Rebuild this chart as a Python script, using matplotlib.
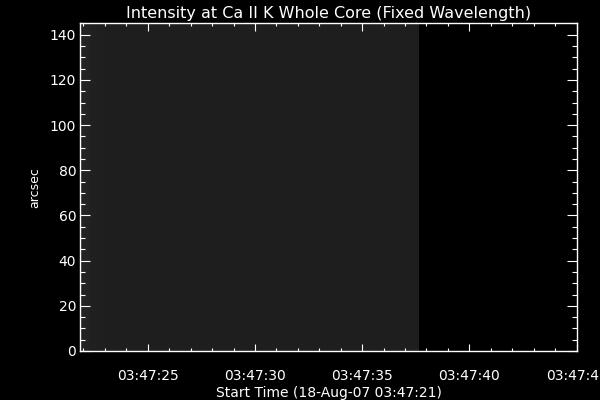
import numpy as np
from matplotlib import pyplot as plt
from matplotlib.ticker import MultipleLocator, FuncFormatter

# start of observation 03:47:21, x values are seconds after that
start_sec = 21
x_range = [0.86, 24.0]
img_span = [0.86, 16.64]          # seconds covered by the raster
y_range = [0, 145]

# column brightness of the (nearly empty) raster
col_vals = [0.14, 0.125, 0.12, 0.12, 0.12, 0.118, 0.12, 0.118,
            0.12, 0.118, 0.12, 0.118, 0.12, 0.118, 0.12, 0.118,
            0.12, 0.118, 0.12, 0.118, 0.12, 0.118, 0.12, 0.118,
            0.12, 0.118, 0.12, 0.118, 0.12, 0.118, 0.12, 0.118]
img = np.array([col_vals, col_vals])

title = "Intensity at Ca II K Whole Core (Fixed Wavelength)"
xlab = "Start Time (18-Aug-07 03:47:21)"
ylab = "arcsec"

def timeFmt(v, pos):               # seconds offset -> 03:47:SS
    s = int(round(v + start_sec))
    return "03:%02d:%02d" % (47 + s // 60, s % 60)

fig = plt.figure(figsize=(6, 4), dpi=100, facecolor="black")
ax = fig.add_axes([0.134, 0.1225, 0.827, 0.8188])
ax.set_facecolor("black")

ax.imshow(img, cmap="gray", vmin=0, vmax=1, aspect="auto", interpolation="bilinear",
          extent=[img_span[0], img_span[1], y_range[0], y_range[1]], origin="lower")

ax.set_xlim(x_range)
ax.set_ylim(y_range)

ax.xaxis.set_minor_locator(MultipleLocator(1))
ax.xaxis.set_major_formatter(FuncFormatter(timeFmt))
ax.set_xticks([4, 9, 14, 19, 24])
ax.yaxis.set_major_locator(MultipleLocator(20))
ax.yaxis.set_minor_locator(MultipleLocator(5))

for s in ax.spines.values():
    s.set_color("white")
    s.set_linewidth(1.0)

ax.tick_params(axis="both", which="both", direction="in", colors="white",
               top=True, right=True, width=0.8, labelsize=10)
ax.tick_params(axis="x", which="major", length=5.4, pad=13)
ax.tick_params(axis="x", which="minor", length=2.5)
ax.tick_params(axis="y", which="major", length=7.2, pad=3)
ax.tick_params(axis="y", which="minor", length=3.6)

ax.set_title(title, color="white", fontsize=11.5, pad=4)
ax.set_xlabel(xlab, color="white", fontsize=10, labelpad=2)
ax.set_ylabel(ylab, color="white", fontsize=9, labelpad=6)

plt.savefig("out.png", dpi=100, facecolor="black")
